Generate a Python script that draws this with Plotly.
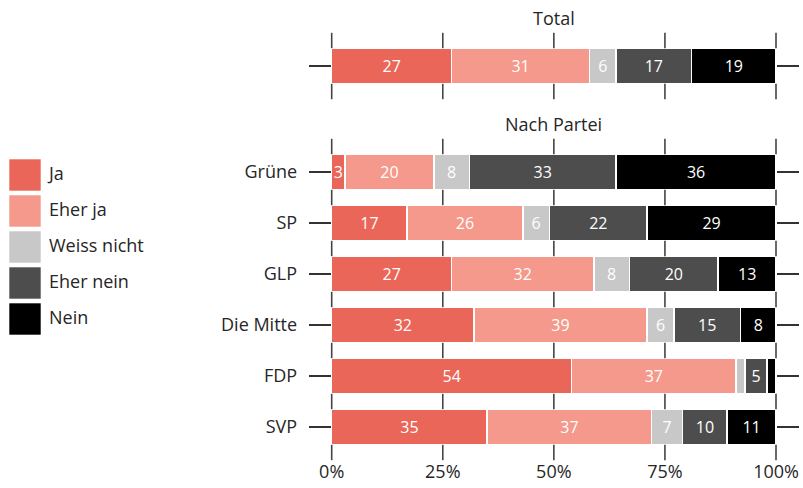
import plotly.graph_objects as go

# ---------------- data ----------------
answers = ["Ja", "Eher ja", "Weiss nicht", "Eher nein", "Nein"]
colors = ["#EA6659", "#F4998B", "#C8C8C8", "#4D4D4D", "#000000"]

total_values = [27, 31, 6, 17, 19]

parties = ["Grüne", "SP", "GLP", "Die Mitte", "FDP", "SVP"]
ja = [3, 17, 27, 32, 54, 35]
eher_ja = [20, 26, 32, 39, 37, 37]
weiss_nicht = [8, 6, 8, 6, 2, 7]
eher_nein = [33, 22, 20, 15, 5, 10]
nein = [36, 29, 13, 8, 2, 11]
party_series = [ja, eher_ja, weiss_nicht, eher_nein, nein]

x_ticks = [0, 25, 50, 75, 100]
x_ticklabels = ["0%", "25%", "50%", "75%", "100%"]

FONT = "Open Sans"
TXT = "#262626"
TICKC = "#444444"
FS = 18
W, H = 803, 488

def fy(px):  # pixel from top -> paper fraction
    return 1 - px / H

def fx(px):
    return px / W

fig = go.Figure()

def label(v):
    return str(v) if v >= 3 else ""

# ---- Total bar (x, y) ----
for name, col, v in zip(answers, colors, total_values):
    fig.add_trace(go.Bar(
        x=[v], y=[0], orientation="h", name=name, marker_color=col,
        marker_line=dict(color="white", width=1.5), width=0.68,
        text=[label(v)], textposition="inside", insidetextanchor="middle",
        textfont=dict(color="white", size=16, family=FONT), constraintext="none",
        showlegend=False, xaxis="x", yaxis="y", hoverinfo="x+name"))

# ---- Party bars (x2, y2) ----
for name, col, vals in zip(answers, colors, party_series):
    fig.add_trace(go.Bar(
        x=vals, y=list(range(len(parties))), orientation="h", name=name, marker_color=col,
        marker_line=dict(color="white", width=1.5), width=0.68,
        text=[label(v) for v in vals], textposition="inside", insidetextanchor="middle",
        textfont=dict(color="white", size=16, family=FONT), constraintext="none",
        showlegend=False, xaxis="x2", yaxis="y2", hoverinfo="x+name"))

# ---- tick marks between rows ----
def tick_trace(nrows, xa, ya):
    xs, ys = [], []
    for b in range(nrows + 1):
        for t in x_ticks:
            xs.append(t)
            ys.append(b - 0.5)
    return go.Scatter(x=xs, y=ys, mode="markers", xaxis=xa, yaxis=ya,
                      marker=dict(symbol="line-ns", size=11, color=TICKC,
                                  line=dict(color=TICKC, width=1.6)),
                      cliponaxis=False, showlegend=False, hoverinfo="skip")

fig.add_trace(tick_trace(1, "x", "y"))
fig.add_trace(tick_trace(len(parties), "x2", "y2"))

# ---- custom legend (x3, y3) ----
fig.add_trace(go.Scatter(
    x=[25] * len(answers), y=list(range(len(answers))), mode="markers",
    marker=dict(symbol="square", size=32, color=colors, line=dict(color="rgba(255,255,255,0.6)", width=1)),
    xaxis="x3", yaxis="y3", showlegend=False, hoverinfo="skip", cliponaxis=False))
fig.add_trace(go.Scatter(
    x=[49] * len(answers), y=list(range(len(answers))), mode="text", text=answers,
    textposition="middle right", textfont=dict(size=FS, color=TXT, family=FONT),
    xaxis="x3", yaxis="y3", showlegend=False, hoverinfo="skip", cliponaxis=False))

x_dom = [fx(331.7), fx(776)]
x_mid = (x_dom[0] + x_dom[1]) / 2
common_x = dict(range=[0, 100], showgrid=False, zeroline=False, fixedrange=True, automargin=False)
common_y = dict(showgrid=False, zeroline=False, ticks="outside", ticklen=22, tickwidth=1.5,
                tickcolor="#333333", showline=True, linecolor="rgba(0,0,0,0)", mirror="ticks",
                ticklabelstandoff=8, tickfont=dict(size=FS, color=TXT, family=FONT),
                automargin=False)

fig.update_layout(
    width=W, height=H, margin=dict(l=0, r=0, t=0, b=0, pad=0, autoexpand=False), autosize=False,
    paper_bgcolor="white", plot_bgcolor="white", barmode="stack", showlegend=False,
    font=dict(family=FONT, color=TXT),
    xaxis=dict(domain=x_dom, anchor="y", showticklabels=False, ticks="", **common_x),
    yaxis=dict(domain=[fy(91.5), fy(40.5)], anchor="x", range=[-0.5, 0.5],
               tickvals=[0], ticktext=[""], **common_y),
    xaxis2=dict(domain=x_dom, anchor="y2", tickvals=x_ticks, ticktext=x_ticklabels, ticks="",
                ticklabelstandoff=6, tickfont=dict(size=FS, color=TXT, family=FONT), **common_x),
    yaxis2=dict(domain=[fy(452.5), fy(146.5)], anchor="x2", range=[len(parties) - 0.5, -0.5],
                tickvals=list(range(len(parties))), ticktext=parties, **common_y),
    xaxis3=dict(domain=[0, fx(300)], anchor="y3", range=[0, 300], visible=False,
                fixedrange=True, automargin=False),
    yaxis3=dict(domain=[fy(337), fy(157)], anchor="x3", range=[len(answers) - 0.5, -0.5],
                visible=False, fixedrange=True, automargin=False),
    annotations=[
        dict(text="Total", x=x_mid, y=fy(17.5), xref="paper", yref="paper", xanchor="center",
             showarrow=False, font=dict(size=FS, color=TXT, family=FONT), yanchor="middle"),
        dict(text="Nach Partei", x=x_mid, y=fy(123.5), xref="paper", yref="paper", xanchor="center",
             showarrow=False, font=dict(size=FS, color=TXT, family=FONT), yanchor="middle"),
    ],
)

fig.write_html(
    "out.html",
    config={"responsive": False, "displayModeBar": False},
    post_script="document.body.style.margin='0';document.body.style.overflow='hidden';",
)
